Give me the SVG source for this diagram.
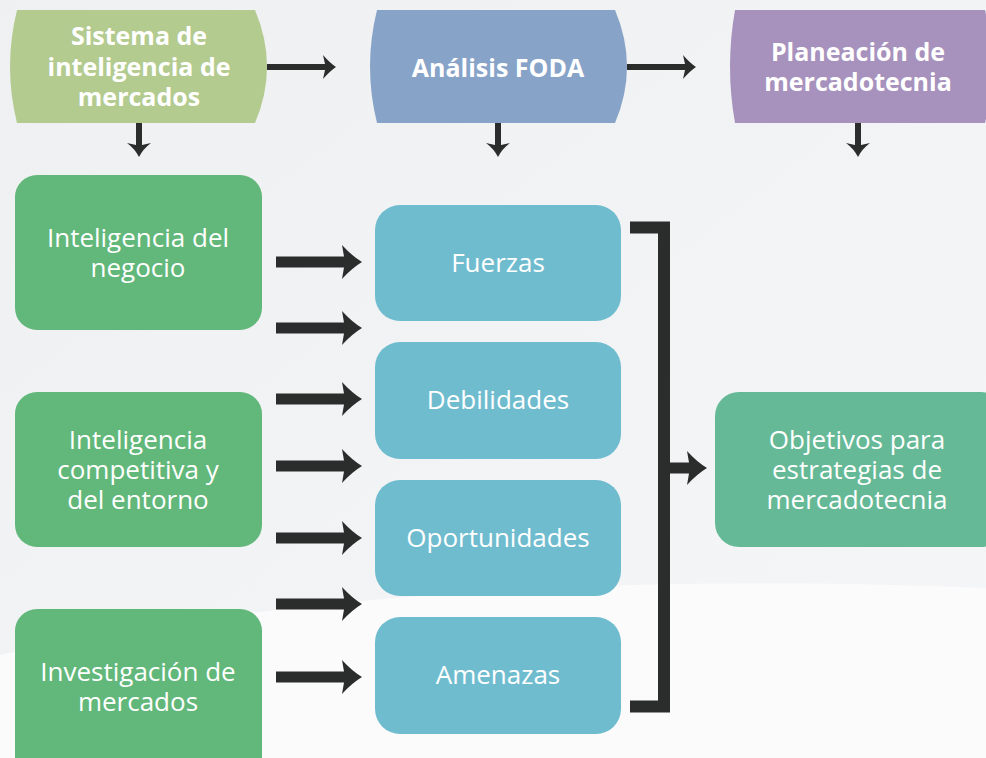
<svg xmlns="http://www.w3.org/2000/svg" xmlns:xlink="http://www.w3.org/1999/xlink" width="986" height="758" viewBox="0 0 986 758">
<defs>
<style>
.hd{font-family:"Open Sans","Noto Sans","DejaVu Sans",sans-serif;font-weight:700;font-size:25px;fill:#ffffff;text-anchor:middle}
.tx{font-family:"Open Sans","Noto Sans","DejaVu Sans",sans-serif;font-weight:400;font-size:26px;fill:#ffffff;text-anchor:middle}
.ar{fill:#2b2d2c}
</style>
<path id="bigArrow" d="M-86,-5.5 H-18 L-20,-17 Q-10,-6 0,0 Q-10,6 -20,17 L-18,5.5 H-86 Z"/>
<path id="smallArrow" d="M-69,-3 H-11 L-13,-12 Q-6,-4 0,0 Q-6,4 -13,12 L-11,3 H-69 Z"/>
<linearGradient id="bg" x1="0" y1="0" x2="1" y2="1">
<stop offset="0" stop-color="#eff0f2"/>
<stop offset="1" stop-color="#f5f6f8"/>
</linearGradient>
</defs>
<rect x="0" y="0" width="986" height="758" fill="url(#bg)"/>
<path d="M0,655 Q420,565 986,588 V758 H0 Z" fill="#fbfbfc"/>

<g id="n-sistema">
<path d="M17,10 H255 Q279,66.5 255,123 H17 Q3,66.5 17,10 Z" fill="#b3cb8f"/>
<text class="hd" x="139" y="45">Sistema de<tspan x="139" dy="31">inteligencia de</tspan><tspan x="139" dy="30">mercados</tspan></text>
</g>
<g id="n-foda">
<path d="M377,10 H615 Q639,66.5 615,123 H377 Q363,66.5 377,10 Z" fill="#87a3c8"/>
<text class="hd" x="498" y="77">Análisis FODA</text>
</g>
<g id="n-planeacion">
<path d="M735,10 H985 Q999,66.5 985,123 H735 Q725,66.5 735,10 Z" fill="#a792bd"/>
<text class="hd" x="858" y="61">Planeación de<tspan x="858" dy="30">mercadotecnia</tspan></text>
</g>

<g id="n-negocio">
<rect x="15" y="175" width="247" height="155" rx="22" fill="#62b77a"/>
<text class="tx" x="138" y="247">Inteligencia del<tspan x="138" dy="30">negocio</tspan></text>
</g>
<g id="n-competitiva">
<rect x="15" y="392" width="247" height="155" rx="22" fill="#62b77a"/>
<text class="tx" x="138" y="449">Inteligencia<tspan x="138" dy="30">competitiva y</tspan><tspan x="138" dy="30">del entorno</tspan></text>
</g>
<g id="n-investigacion">
<rect x="15" y="609" width="247" height="175" rx="22" fill="#62b77a"/>
<text class="tx" x="138" y="681">Investigación de<tspan x="138" dy="30">mercados</tspan></text>
</g>

<g id="n-fuerzas">
<rect x="375" y="205" width="246" height="116" rx="25" fill="#6fbccf"/>
<text class="tx" x="498" y="272">Fuerzas</text>
</g>
<g id="n-debilidades">
<rect x="375" y="342" width="246" height="117" rx="25" fill="#6fbccf"/>
<text class="tx" x="498" y="409">Debilidades</text>
</g>
<g id="n-oportunidades">
<rect x="375" y="480" width="246" height="116" rx="25" fill="#6fbccf"/>
<text class="tx" x="498" y="547">Oportunidades</text>
</g>
<g id="n-amenazas">
<rect x="375" y="617" width="246" height="117" rx="25" fill="#6fbccf"/>
<text class="tx" x="498" y="684">Amenazas</text>
</g>

<g id="n-objetivos">
<rect x="715" y="392" width="290" height="155" rx="24" fill="#65b996"/>
<text class="tx" x="857" y="449">Objetivos para<tspan x="857" dy="30">estrategias de</tspan><tspan x="857" dy="30">mercadotecnia</tspan></text>
</g>

<g id="connectors" class="ar">
<use xlink:href="#smallArrow" transform="translate(336,67)"/>
<use xlink:href="#smallArrow" transform="translate(696,67)"/>
<path d="M136,123 h6 v22 l9,-2 q-8,6 -12,14 q-4,-8 -12,-14 l9,2 z"/>
<path d="M495,123 h6 v22 l9,-2 q-8,6 -12,14 q-4,-8 -12,-14 l9,2 z"/>
<path d="M855,123 h6 v22 l9,-2 q-8,6 -12,14 q-4,-8 -12,-14 l9,2 z"/>
<use xlink:href="#bigArrow" transform="translate(362,262)"/>
<use xlink:href="#bigArrow" transform="translate(362,328)"/>
<use xlink:href="#bigArrow" transform="translate(362,399)"/>
<use xlink:href="#bigArrow" transform="translate(362,466)"/>
<use xlink:href="#bigArrow" transform="translate(362,538)"/>
<use xlink:href="#bigArrow" transform="translate(362,604)"/>
<use xlink:href="#bigArrow" transform="translate(362,677)"/>
<path d="M630,227.5 H664 V706.5 H630" fill="none" stroke="#2b2d2c" stroke-width="12"/>
<path d="M664,462.5 H689 L687,451 Q697,462 707,468 Q697,474 687,485 L689,473.5 H664 Z"/>
</g>
</svg>
